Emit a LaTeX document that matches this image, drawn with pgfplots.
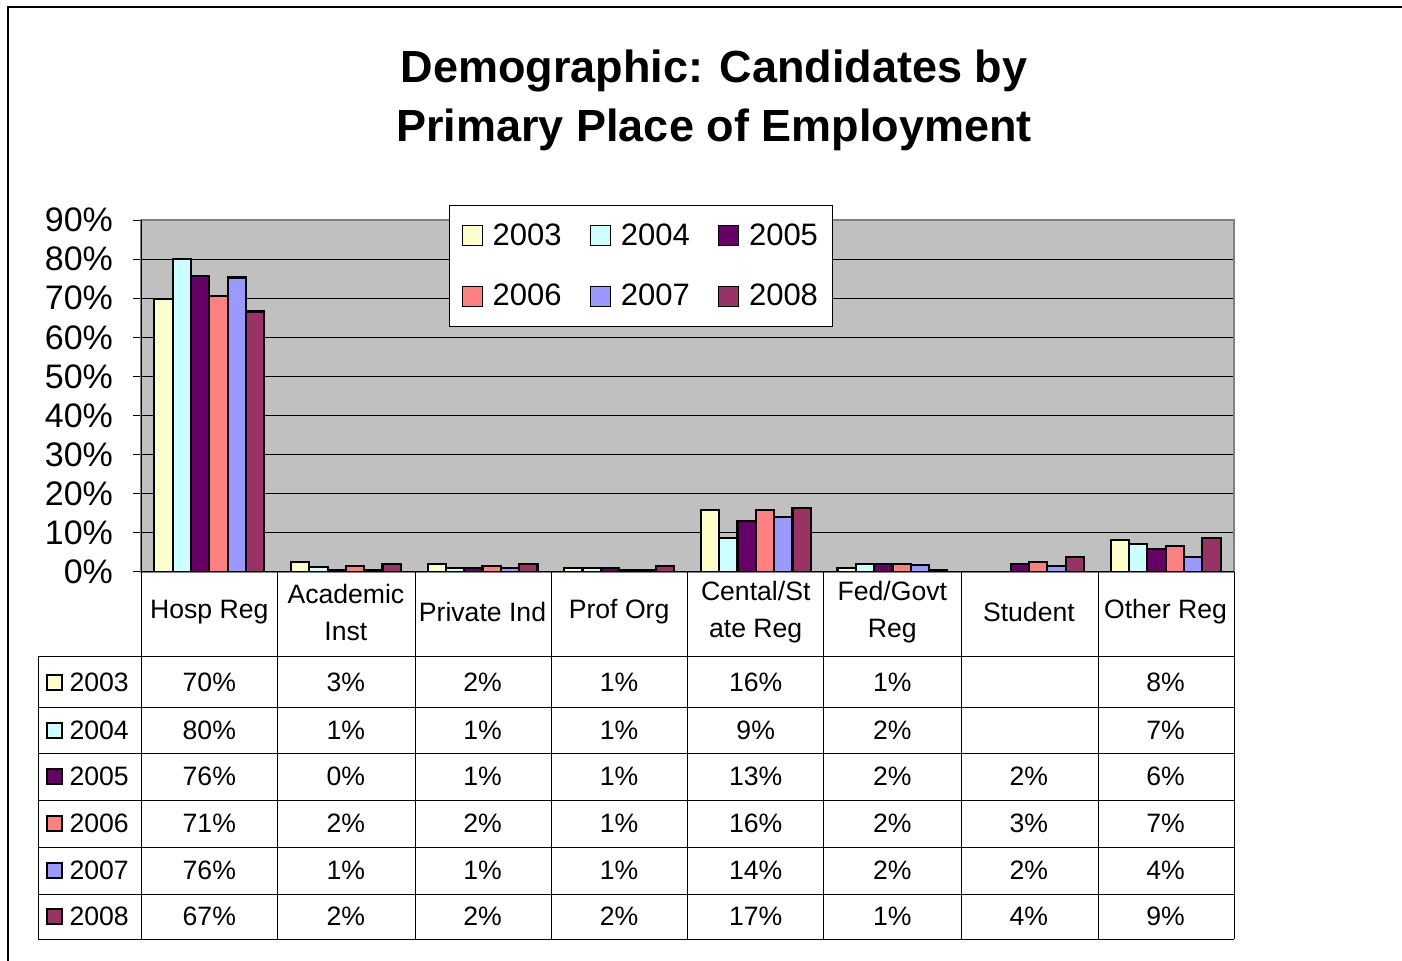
\documentclass[border=0pt]{standalone}
\usepackage{pgfplots}
\pgfplotsset{compat=1.18}
\usepackage{fontspec}
\setmainfont{Liberation Sans}

\definecolor{c2003}{HTML}{FFFFCC}
\definecolor{c2004}{HTML}{CCFFFF}
\definecolor{c2005}{HTML}{660066}
\definecolor{c2006}{HTML}{FF8080}
\definecolor{c2007}{HTML}{9999FF}
\definecolor{c2008}{HTML}{993366}
\definecolor{plotbg}{HTML}{C0C0C0}
\definecolor{plotframe}{HTML}{808080}

\newcommand{\tabfont}{\fontsize{13.3}{18.5}\selectfont}

\begin{document}
\begin{tikzpicture}
% frame and title, 1 unit = 1 pixel of the reference
\begin{scope}[x=0.5pt,y=-0.5pt]
\path[use as bounding box] (0,0) rectangle (1402,961);
\draw[line width=1pt] (8,961) -- (8,7) -- (1402,7);
\node[font=\fontsize{22.5}{29.5}\selectfont\bfseries, align=center] at (714,100)
  {Demographic: Candidates by\\Primary Place of Employment};
\end{scope}

\begin{axis}[
  at={(70.5pt,-286pt)}, anchor=south west,
  width=546.5pt, height=176pt, scale only axis,
  ybar=0pt, bar width=0.134,
  xmin=-0.5, xmax=7.5, ymin=0, ymax=90,
  xtick=\empty,
  ytick={0,10,...,90},
  yticklabel={\pgfmathprintnumber{\tick}\%},
  /pgf/number format/assume math mode=true,
  yticklabel style={font=\fontsize{17}{18}\selectfont, xshift=-6.5pt},
  ytick pos=left, tick align=outside, major tick length=4pt,
  tick style={black, line width=0.5pt},
  ymajorgrids, grid style={black, line width=0.5pt},
  axis background/.style={fill=plotbg},
  axis line style={plotframe, line width=1pt},
  every axis plot/.append style={draw=black, line width=1.1pt},
  legend image code/.code={\draw[#1, line width=0.6pt] (0pt,-5pt) rectangle (10pt,5pt);},
  legend columns=3,
  legend style={at={(0.2818,1.0426)}, anchor=north west, draw=black,
    line width=0.5pt, fill=white, font=\fontsize{15.5}{18}\selectfont,
    inner xsep=6pt, inner ysep=8pt, row sep=16pt,
    nodes={inner sep=1pt},
    /tikz/every odd column/.append style={column sep=4pt},
    /tikz/every even column/.append style={column sep=13pt}},
]
\addplot[fill=c2003] coordinates {(0,69.8) (1,2.6) (2,2.0) (3,1.0) (4,15.9) (5,1.0) (7,8.2)};
\addplot[fill=c2004] coordinates {(0,80.0) (1,1.2) (2,1.0) (3,1.0) (4,8.7) (5,2.0) (7,7.2)};
\addplot[fill=c2005] coordinates {(0,75.7) (1,0.4) (2,1.0) (3,1.0) (4,13.0) (5,2.0) (6,2.0) (7,5.9)};
\addplot[fill=c2006] coordinates {(0,70.5) (1,1.5) (2,1.5) (3,0.6) (4,15.9) (5,2.0) (6,2.6) (7,6.6)};
\addplot[fill=c2007] coordinates {(0,75.3) (1,0.6) (2,1.0) (3,0.6) (4,14.1) (5,1.7) (6,1.5) (7,3.8)};
\addplot[fill=c2008] coordinates {(0,66.6) (1,2.0) (2,2.0) (3,1.5) (4,16.4) (5,0.5) (6,3.8) (7,8.7)};
\legend{2003,2004,2005,2006,2007,2008}
\end{axis}

% data table below the plot
\begin{scope}[x=0.5pt,y=-0.5pt, line width=0.5pt]
\foreach \x in {277,415,551,687,823,961,1098,1234} \draw (\x,572) -- (\x,939);
\draw (141,220) -- (141,939);
\draw (38,657) -- (38,939);
\foreach \y in {657,707,753,800,847,894,939} \draw (38,\y) -- (1234,\y);
\draw (141,572) -- (1234,572);

\begin{scope}[every node/.style={font=\tabfont, align=center}]
\foreach \lab [count=\i] in {Hosp Reg, Academic\\Inst, Private Ind, Prof Org,
    Cental/St\\ate Reg, Fed/Govt\\Reg, Student, Other Reg}
  \node at ({141+136.6*(\i-0.5)},612) {\lab};

\foreach \yr/\yc/\vals in {
    2003/682/{70\%,3\%,2\%,1\%,16\%,1\%,{},8\%},
    2004/730/{80\%,1\%,1\%,1\%,9\%,2\%,{},7\%},
    2005/776/{76\%,0\%,1\%,1\%,13\%,2\%,2\%,6\%},
    2006/823/{71\%,2\%,2\%,1\%,16\%,2\%,3\%,7\%},
    2007/870/{76\%,1\%,1\%,1\%,14\%,2\%,2\%,4\%},
    2008/916/{67\%,2\%,2\%,2\%,17\%,1\%,4\%,9\%}} {
  \draw[fill=c\yr, line width=0.6pt] (47,\yc-7) rectangle (62,\yc+8);
  \node[anchor=west, inner sep=0pt] at (69,\yc) {\yr};
  \foreach \v [count=\i] in \vals
    \node at ({141+136.6*(\i-0.5)},\yc) {\v};
}
\end{scope}
\end{scope}
\end{tikzpicture}
\end{document}
